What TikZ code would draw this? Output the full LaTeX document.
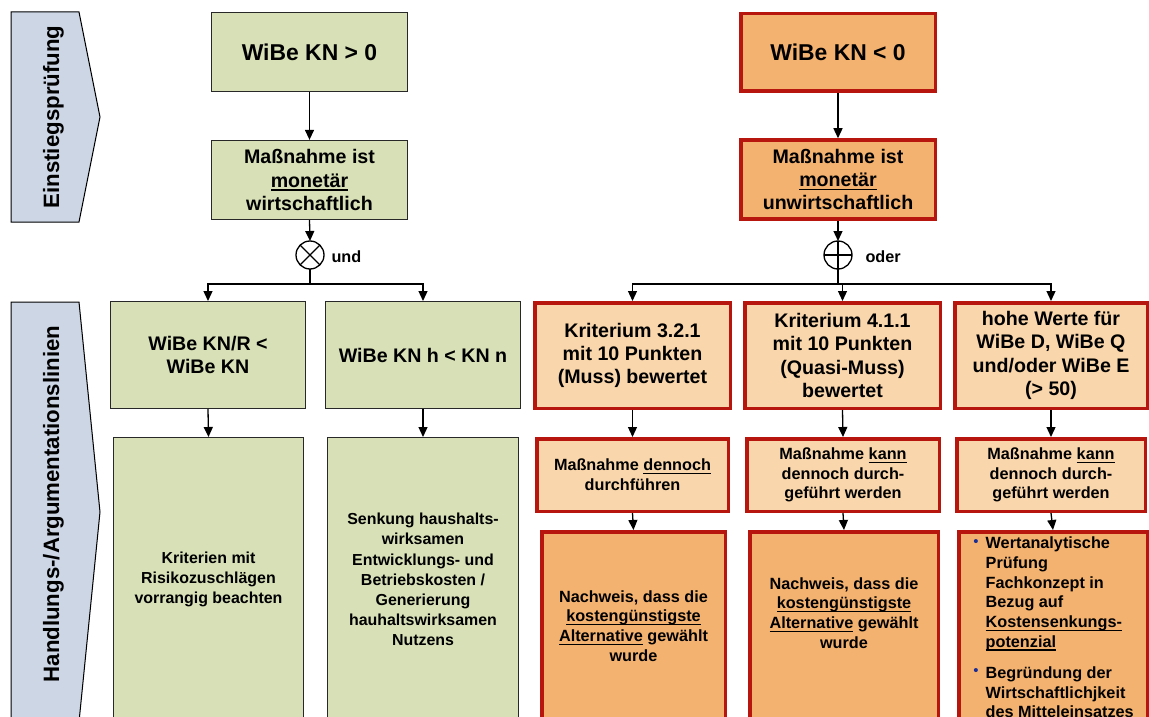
\documentclass[tikz,border=0pt]{standalone}
\usepackage{fontspec}
\setmainfont{Liberation Sans}
\newcommand\myul[1]{\leavevmode\setbox0\hbox{#1}\rlap{\vrule height -2.2pt depth 3.5pt width \wd0}\box0\relax}
\usetikzlibrary{arrows.meta}
\definecolor{gfill}{RGB}{215,224,183}
\definecolor{gline}{RGB}{40,40,40}
\definecolor{lfill}{RGB}{249,214,171}
\definecolor{dfill}{RGB}{244,178,112}
\definecolor{rline}{RGB}{183,22,14}
\definecolor{sidefill}{RGB}{204,214,228}
\definecolor{bulblue}{RGB}{25,45,150}
\begin{document}
\begin{tikzpicture}[x=1bp,y=-1bp,
  every node/.style={font=\bfseries},
  gbox/.style={draw=gline, line width=1.3bp, fill=gfill, inner sep=2bp, align=center},
  rbox/.style={draw=rline, line width=3.5bp, fill=lfill, inner sep=2bp, align=center},
  rboxd/.style={rbox, fill=dfill},
  side/.style={draw=black, line width=1bp, fill=sidefill},
  arr/.style={-{Triangle[length=10bp,width=9bp]}, line width=1.3bp},
  conn/.style={line width=1.3bp},
  fbig/.style={font=\bfseries\fontsize{23}{27}\selectfont},
  fmid/.style={font=\bfseries\fontsize{19.7}{23.5}\selectfont},
  fsml/.style={font=\bfseries\fontsize{16.3}{19.7}\selectfont},
  fgrn/.style={font=\bfseries\fontsize{16}{20.2}\selectfont},
  fbul/.style={font=\bfseries\fontsize{16.3}{19.7}\selectfont},
  fside/.style={font=\bfseries\fontsize{22.3}{26}\selectfont},
  junc/.style={circle, draw, line width=1.3bp, minimum size=28bp, inner sep=0pt, outer sep=0pt},
]
\useasboundingbox (0,0) rectangle (1149,717);

% side arrows
\draw[side] (11,12) -- (79,12) -- (100,117) -- (79,222) -- (11,222) -- cycle;
\node[rotate=90, fside] (s1) at (53.5,117) {Einstiegsprüfung};
\draw[side] (11,302) -- (79,302) -- (100,512) -- (79,722) -- (11,722) -- cycle;
\node[rotate=90, fside] (s2) at (53.5,504) {Handlungs-/Argumentationslinien};

% left column
\node[gbox, fbig, minimum width=196bp, minimum height=79bp] (g1) at (309.5,52) {WiBe KN > 0};
\node[gbox, fmid, minimum width=196bp, minimum height=79bp] (g2) at (309.5,180) {Maßnahme ist\\\myul{monetär}\\wirtschaftlich};
\node[junc] (c1) at (310,255) {};
\draw[conn] (c1.north east) -- (c1.south west) (c1.north west) -- (c1.south east);
\node[anchor=west, fsml] (und) at (328,257) {und};
\node[gbox, fmid, minimum width=194.7bp, minimum height=106.7bp] (g3) at (208,355) {WiBe KN/R <\\WiBe KN};
\node[gbox, fmid, minimum width=194.7bp, minimum height=106.7bp] (g4) at (423,355) {WiBe KN h < KN n};
\node[gbox, fgrn, minimum width=189.7bp, minimum height=283.7bp] (g5) at (208.5,579.5) {Kriterien mit\\Risikozuschlägen\\vorrangig beachten};
\node[gbox, fgrn, minimum width=190.7bp, minimum height=283.7bp] (g6) at (423,579.5) {Senkung haushalts-\\wirksamen\\Entwicklungs- und\\Betriebskosten /\\Generierung\\hauhaltswirksamen\\Nutzens};

\coordinate (j1) at (310,284);
\draw[arr] (g1.south) -- (g2.north);
\draw[arr] (g2.south) -- (c1.north);
\draw[conn] (c1.south) -- (j1);
\draw[arr] (j1) -| (g3.north);
\draw[arr] (j1) -| (g4.north);
\draw[arr] (g3.south) -- (g5.north);
\draw[arr] (g4.south) -- (g6.north);

% right column
\node[rboxd, fbig, minimum width=194.5bp, minimum height=77.5bp] (r1) at (838,52.5) {WiBe KN < 0};
\node[rboxd, fmid, minimum width=194.5bp, minimum height=79bp] (r2) at (838,179.5) {Maßnahme ist\\\myul{monetär}\\unwirtschaftlich};
\node[junc] (c2) at (838,255) {};
\draw[conn] (c2.north) -- (c2.south) (c2.west) -- (c2.east);
\node[anchor=west, fsml] (oder) at (862,257) {oder};

\node[rbox, fmid, minimum width=195.5bp, minimum height=105.5bp] (r3) at (632.5,355.5) {Kriterium 3.2.1\\mit 10 Punkten\\(Muss) bewertet};
\node[rbox, fmid, minimum width=195.5bp, minimum height=105.5bp] (r4) at (842.5,355.5) {Kriterium 4.1.1\\mit 10 Punkten\\(Quasi-Muss)\\bewertet};
\node[rbox, fmid, minimum width=192.5bp, minimum height=105.5bp] (r5) at (1051,355.5) {hohe Werte für\\WiBe D, WiBe Q\\und/oder WiBe E\\(> 50)};

\node[rbox, fsml, minimum width=191.5bp, minimum height=72.5bp] (r6) at (632.5,475) {Maßnahme \myul{dennoch}\\durchführen};
\node[rbox, fsml, minimum width=192.5bp, minimum height=72.5bp] (r7) at (843,475) {Maßnahme \myul{kann}\\dennoch durch-\\geführt werden};
\node[rbox, fsml, minimum width=188.5bp, minimum height=72.5bp] (r8) at (1051,475) {Maßnahme \myul{kann}\\dennoch durch-\\geführt werden};

\node[rboxd, fsml, minimum width=183.5bp, minimum height=188.5bp] (r9) at (633.5,626) {Nachweis, dass die\\\myul{kostengünstigste}\\\myul{Alternative} gewählt\\wurde};
\node[rboxd, minimum width=188.5bp, minimum height=188.5bp] (r10) at (844,626) {};
\node[fsml, align=center] (t10) at (844,613) {Nachweis, dass die\\\myul{kostengünstigste}\\\myul{Alternative} gewählt\\wurde};
\node[rboxd, minimum width=188.5bp, minimum height=188.5bp] (r11) at (1053,626) {};
\node[text=bulblue, font=\fontsize{15}{15}\selectfont] (b1) at (976,543) {•};
\node[fbul, anchor=north west, align=left, inner sep=0pt] (t11a) at (985.5,537) {Wertanalytische\\Prüfung\\Fachkonzept in\\Bezug auf\\\myul{Kostensenkungs-}\\\myul{potenzial}};
\node[text=bulblue, font=\fontsize{15}{15}\selectfont] (b2) at (976,672) {•};
\node[fbul, anchor=north west, align=left, inner sep=0pt] (t11b) at (985.5,666.5) {Begründung der\\Wirtschaftlichjkeit\\des Mitteleinsatzes};

\coordinate (j2) at (838,284);
\draw[arr] (r1.south) -- (r2.north);
\draw[arr] (r2.south) -- (c2.north);
\draw[conn] (c2.south) -- (j2);
\draw[arr] (j2) -| (r3.north);
\draw[arr] (j2) -| (r4.north);
\draw[arr] (j2) -| (r5.north);
\draw[arr] (r3.south) -- (r6.north);
\draw[arr] (r4.south) -- (r7.north);
\draw[arr] (r5.south) -- (r8.north);
\draw[arr] (r6.south) -- (r9.north);
\draw[arr] (r7.south) -- (r10.north);
\draw[arr] (r8.south) -- (r11.north);
\end{tikzpicture}
\end{document}
